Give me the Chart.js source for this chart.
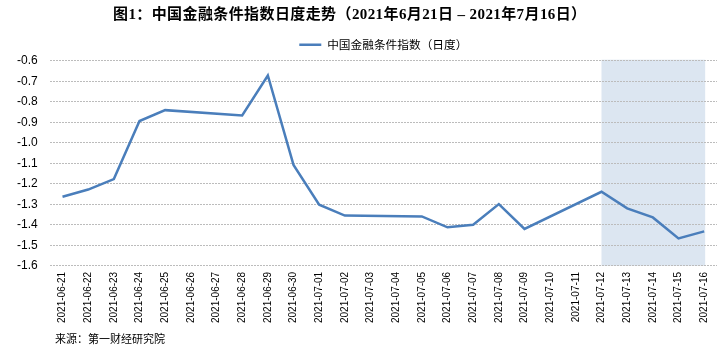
<!DOCTYPE html>
<html>
<head>
<meta charset="utf-8">
<script src="https://cdn.jsdelivr.net/npm/chart.js@4/dist/chart.umd.min.js"></script>
<style>
html,body{margin:0;padding:0;background:#fff;}
#wrap{position:relative;width:727px;height:354px;}
#title{position:absolute;left:113px;top:2px;font-family:"Liberation Serif","Noto Sans CJK SC",serif;font-weight:bold;font-size:15px;letter-spacing:0.4px;color:#000;white-space:nowrap;}
#source{position:absolute;left:55px;top:330px;font-family:"Noto Sans CJK SC",sans-serif;font-size:11px;color:#000;white-space:nowrap;}
canvas{position:absolute;left:0;top:0;}
</style>
</head>
<body>
<div id="wrap">
<canvas id="c" width="727" height="354"></canvas>
<div id="title">图1：中国金融条件指数日度走势（2021年6月21日 – 2021年7月16日）</div>
<div id="source">来源：第一财经研究院</div>
</div>
<script>
const categories = ["2021-06-21","2021-06-22","2021-06-23","2021-06-24","2021-06-25","2021-06-26","2021-06-27","2021-06-28","2021-06-29","2021-06-30","2021-07-01","2021-07-02","2021-07-03","2021-07-04","2021-07-05","2021-07-06","2021-07-07","2021-07-08","2021-07-09","2021-07-10","2021-07-11","2021-07-12","2021-07-13","2021-07-14","2021-07-15","2021-07-16"];
const seriesName = "中国金融条件指数（日度）";
const values = [-1.263,-1.228,-1.177,-0.894,-0.841,null,null,-0.867,-0.672,-1.108,-1.302,-1.355,null,null,-1.359,-1.412,-1.400,-1.299,-1.420,null,null,-1.239,-1.320,-1.364,-1.466,-1.432];
const yTicks = [-0.6,-0.7,-0.8,-0.9,-1.0,-1.1,-1.2,-1.3,-1.4,-1.5,-1.6];
const shadeFrom = "2021-07-12";
const shadeTo = "2021-07-16";

const shadePlugin = {
  id: 'shade',
  beforeDraw(chart) {
    const {ctx, chartArea, scales} = chart;
    ctx.save();
    ctx.fillStyle = '#ffffff';
    ctx.fillRect(0, 0, chart.width, chart.height);
    const x = scales.x;
    const x0 = x.getPixelForValue(categories.indexOf(shadeFrom));
    const x1 = x.getPixelForValue(categories.indexOf(shadeTo)) + 1;
    ctx.fillStyle = '#dce6f1';
    ctx.fillRect(x0, chartArea.top - 1, x1 - x0, chartArea.bottom - chartArea.top + 1);
    ctx.restore();
  }
};

new Chart(document.getElementById('c'), {
  type: 'line',
  data: {
    labels: categories,
    datasets: [{
      label: seriesName,
      data: values,
      borderColor: '#4a7ebb',
      backgroundColor: '#4a7ebb',
      borderWidth: 2.5,
      pointRadius: 0,
      tension: 0,
      spanGaps: true
    }]
  },
  options: {
    responsive: false,
    animation: false,
    devicePixelRatio: 1,
    layout: { padding: { top: 35, right: 10, bottom: 25, left: 5 } },
    plugins: {
      title: { display: false },
      tooltip: { enabled: false },
      legend: {
        display: true,
        position: 'top',
        fullSize: false,
        labels: {
          usePointStyle: true,
          pointStyle: 'line',
          pointStyleWidth: 22,
          boxHeight: 3,
          padding: 4,
          color: '#000',
          font: { family: '"Noto Sans CJK SC", sans-serif', size: 11.7 }
        }
      }
    },
    scales: {
      x: {
        type: 'category',
        offset: true,
        grid: { display: false, drawTicks: false },
        border: { display: false },
        ticks: {
          autoSkip: false,
          minRotation: 90,
          maxRotation: 90,
          padding: 6,
          color: '#000',
          font: { family: '"Liberation Sans", sans-serif', size: 10 }
        }
      },
      y: {
        min: -1.6,
        max: -0.6,
        afterBuildTicks(scale) { scale.ticks = yTicks.map(v => ({ value: v })); },
        grid: { color: '#bcbcbc', lineWidth: 1, drawTicks: false },
        border: { display: false, dash: [2, 1] },
        ticks: {
          padding: 12,
          color: '#000',
          font: { family: '"Liberation Sans", sans-serif', size: 12 },
          callback: (v) => Number(v).toFixed(1)
        }
      }
    }
  },
  plugins: [shadePlugin]
});
</script>
</body>
</html>
